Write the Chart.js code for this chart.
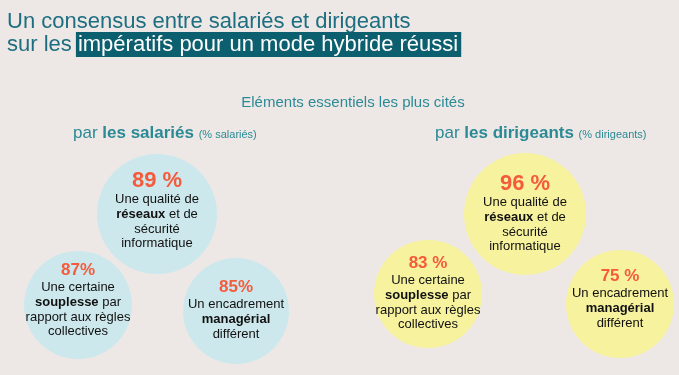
<!DOCTYPE html>
<html>
<head>
<meta charset="utf-8">
<script src="https://cdn.jsdelivr.net/npm/chart.js@4"></script>
<style>
  html, body { margin: 0; padding: 0; background: #ede8e5; }
  #wrap { position: relative; width: 679px; height: 375px; }
</style>
</head>
<body>
<div id="wrap"><canvas id="myChart"></canvas></div>
<script>
// data
var groups = ["les salariés", "les dirigeants"];
var groupNotes = ["(% salariés)", "(% dirigeants)"];
var items = [
  ["Une qualité de", "**réseaux** et de", "sécurité", "informatique"],
  ["Une certaine", "**souplesse** par", "rapport aux règles", "collectives"],
  ["Un encadrement", "**managérial**", "différent"]
];
var salaries = [89, 87, 85];
var dirigeants = [96, 83, 75];
var salariesLabels = ["89 %", "87%", "85%"];
var dirigeantsLabels = ["96 %", "83 %", "75 %"];

// layout (pixels) for the bubbles
var layout = {
  salaries: { x: [157, 78, 236], y: [214, 305, 311], r: [60, 54, 53], pctDy: [-27, -30, -19] },
  dirigeants: { x: [525, 428, 620], y: [214, 294, 304], r: [61, 54, 54], pctDy: [-24, -26, -23] }
};

var W = 679, H = 375;
// the bubble controller pads the chart area by the largest radius
var maxR = Math.max.apply(null, layout.salaries.r.concat(layout.dirigeants.r));

var FONT = "'Liberation Sans', Arial, sans-serif";

function points(lay, values) {
  return values.map(function (v, i) {
    return { x: lay.x[i], y: lay.y[i], r: lay.r[i], v: v };
  });
}

// draws a line of text where **...** parts are bold, centered on cx
function richLine(ctx, text, cx, y, size) {
  var parts = text.split("**");
  var widths = [], total = 0;
  parts.forEach(function (p, i) {
    ctx.font = (i % 2 ? "bold " : "") + size + "px " + FONT;
    var w = ctx.measureText(p).width;
    widths.push(w);
    total += w;
  });
  var x = cx - total / 2;
  parts.forEach(function (p, i) {
    ctx.font = (i % 2 ? "bold " : "") + size + "px " + FONT;
    ctx.fillText(p, x, y);
    x += widths[i];
  });
}

var textPlugin = {
  id: "bubbleText",
  afterDatasetsDraw: function (chart) {
    var ctx = chart.ctx;
    ctx.save();
    ctx.textBaseline = "alphabetic";
    ctx.textAlign = "left";

    // title
    ctx.fillStyle = "#1d6e80";
    ctx.font = "22px " + FONT;
    ctx.fillText("Un consensus entre salariés et dirigeants", 7, 28);
    ctx.fillText("sur les ", 7, 51);
    var hx = 7 + ctx.measureText("sur les ").width;
    var hText = "impératifs pour un mode hybride réussi";
    var hw = ctx.measureText(hText).width;
    ctx.fillStyle = "#0c5f6f";
    ctx.fillRect(hx - 2, 32, hw + 5, 25);
    ctx.fillStyle = "#ffffff";
    ctx.fillText(hText, hx, 51);

    // subtitle
    ctx.fillStyle = "#2a8a95";
    ctx.font = "15px " + FONT;
    ctx.textAlign = "center";
    ctx.fillText("Eléments essentiels les plus cités", 353, 107);
    ctx.textAlign = "left";

    // group headers
    var headX = [73, 435];
    groups.forEach(function (g, i) {
      var x = headX[i];
      ctx.font = "17px " + FONT;
      ctx.fillText("par ", x, 138);
      x += ctx.measureText("par ").width;
      ctx.font = "bold 17px " + FONT;
      ctx.fillText(g, x, 138);
      x += ctx.measureText(g + " ").width;
      ctx.font = "11px " + FONT;
      ctx.fillText(groupNotes[i], x, 138);
    });

    // bubble texts
    var sets = [
      { lay: layout.salaries, labels: salariesLabels },
      { lay: layout.dirigeants, labels: dirigeantsLabels }
    ];
    sets.forEach(function (s, di) {
      var meta = chart.getDatasetMeta(di);
      meta.data.forEach(function (el, i) {
        var cx = el.x, cy = el.y;
        var py = cy + s.lay.pctDy[i];
        ctx.textAlign = "center";
        ctx.fillStyle = "#f45a3c";
        ctx.font = "bold " + (i === 0 ? 22 : 17) + "px " + FONT;
        ctx.fillText(s.labels[i], cx, py);
        ctx.textAlign = "left";
        ctx.fillStyle = "#111111";
        items[i].forEach(function (line, k) {
          richLine(ctx, line, cx, py + 16 + k * 14.8, 13);
        });
      });
    });
    ctx.restore();
  }
};

var ctx = document.getElementById("myChart").getContext("2d");
var myChart = new Chart(ctx, {
  type: "bubble",
  data: {
    datasets: [
      {
        label: groups[0],
        data: points(layout.salaries, salaries),
        backgroundColor: "#cde8ec",
        borderWidth: 0,
        hoverRadius: 0
      },
      {
        label: groups[1],
        data: points(layout.dirigeants, dirigeants),
        backgroundColor: "#f7f29e",
        borderWidth: 0,
        hoverRadius: 0
      }
    ]
  },
  options: {
    responsive: true,
    maintainAspectRatio: false,
    animation: false,
    layout: { padding: 0 },
    clip: false,
    scales: {
      x: { type: "linear", min: maxR, max: W - maxR, display: false },
      y: { type: "linear", min: maxR, max: H - maxR, reverse: true, display: false }
    },
    plugins: {
      legend: { display: false },
      tooltip: {
        callbacks: {
          label: function (context) {
            return context.dataset.label + ": " + context.raw.v + " %";
          }
        }
      }
    }
  },
  plugins: [textPlugin]
});
</script>
</body>
</html>
